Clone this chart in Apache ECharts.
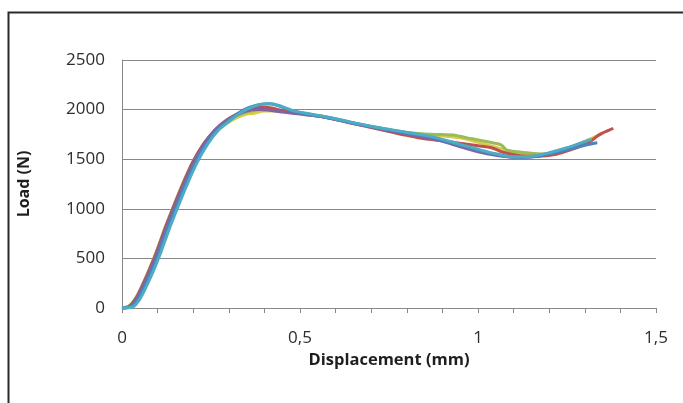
<!DOCTYPE html>
<html>
<head>
<meta charset="utf-8">
<script src="https://cdn.jsdelivr.net/npm/echarts@6/dist/echarts.min.js"></script>
<style>
html,body{margin:0;padding:0;background:#fff;}
#chart{width:683px;height:403px;}
</style>
</head>
<body>
<div id="chart"></div>
<script>
// ---- data (displacement mm, load N) ----
const xTicks = [0, 0.5, 1, 1.5];
const yTicks = [0, 500, 1000, 1500, 2000, 2500];
const xTitle = 'Displacement (mm)';
const yTitle = 'Load (N)';

const seriesNames = ['S6', 'S3', 'S2', 'S4', 'S1', 'S5'];
const seriesColors = ['#D9CC45', '#9BBB59', '#C0504D', '#8064A2', '#4F81BD', '#4BACC6'];

const orangeData = [[0,0],[0.02,20],[0.04,105],[0.06,250],[0.08,415],[0.10,595],[0.12,795],[0.145,1025],[0.17,1245],[0.2,1475],[0.23,1645],[0.26,1765],[0.29,1850],[0.32,1915],[0.35,1955],[0.37,1962],[0.40,1985],[0.44,1985],[0.5,1965],[0.55,1940],[0.6,1905],[0.65,1862],[0.7,1828],[0.75,1792],[0.8,1765],[0.85,1745],[0.9,1735],[0.95,1715],[1.0,1670],[1.05,1620],[1.1,1570],[1.15,1545],[1.2,1560],[1.25,1610],[1.3,1680],[1.35,1760]];
const greenData = [[0,0],[0.02,20],[0.04,110],[0.06,255],[0.08,420],[0.10,600],[0.12,800],[0.145,1030],[0.17,1250],[0.2,1480],[0.23,1655],[0.26,1780],[0.29,1870],[0.32,1935],[0.35,1975],[0.38,1995],[0.41,2005],[0.45,1990],[0.5,1965],[0.55,1940],[0.6,1905],[0.65,1865],[0.7,1830],[0.75,1795],[0.8,1770],[0.85,1755],[0.9,1748],[0.93,1744],[0.97,1715],[1.0,1695],[1.04,1665],[1.065,1645],[1.08,1595],[1.11,1575],[1.15,1560],[1.19,1550],[1.22,1555]];
const redData = [[0,0],[0.02,15],[0.04,100],[0.06,245],[0.08,410],[0.10,590],[0.12,790],[0.145,1020],[0.17,1240],[0.2,1480],[0.23,1660],[0.26,1790],[0.29,1885],[0.32,1950],[0.35,1995],[0.38,2020],[0.41,2020],[0.45,1990],[0.5,1960],[0.55,1935],[0.6,1900],[0.65,1860],[0.7,1820],[0.75,1780],[0.8,1740],[0.85,1705],[0.9,1685],[0.95,1660],[1.0,1635],[1.04,1613],[1.07,1570],[1.12,1535],[1.17,1530],[1.22,1550],[1.26,1595],[1.31,1665],[1.34,1745],[1.37,1795],[1.38,1810]];
const purpleData = [[0,0],[0.02,10],[0.04,90],[0.06,230],[0.08,390],[0.10,570],[0.12,770],[0.145,1000],[0.17,1220],[0.2,1460],[0.23,1650],[0.26,1790],[0.29,1880],[0.32,1945],[0.35,1985],[0.38,2000],[0.41,1995],[0.45,1975],[0.5,1955],[0.55,1935],[0.6,1900],[0.65,1860],[0.7,1825],[0.75,1790],[0.8,1755],[0.85,1720],[0.9,1680],[0.95,1625],[1.0,1575],[1.05,1540],[1.1,1520],[1.15,1525],[1.2,1555],[1.25,1600],[1.3,1650]];
const blueData = [[0,0],[0.025,10],[0.045,90],[0.065,230],[0.085,390],[0.105,570],[0.125,770],[0.15,1000],[0.175,1220],[0.205,1460],[0.235,1650],[0.265,1790],[0.295,1880],[0.325,1960],[0.355,2020],[0.385,2050],[0.415,2060],[0.445,2030],[0.48,1985],[0.52,1955],[0.56,1930],[0.61,1895],[0.66,1858],[0.71,1822],[0.76,1790],[0.81,1760],[0.86,1728],[0.90,1690],[0.95,1640],[1.00,1590],[1.05,1548],[1.10,1520],[1.15,1522],[1.2,1552],[1.25,1595],[1.30,1640],[1.335,1665]];
const cyanData = [[0,0],[0.03,10],[0.05,90],[0.07,230],[0.09,390],[0.11,570],[0.13,770],[0.155,1000],[0.18,1220],[0.21,1460],[0.24,1650],[0.27,1790],[0.30,1880],[0.33,1960],[0.36,2020],[0.39,2055],[0.42,2060],[0.45,2030],[0.48,1990],[0.52,1960],[0.56,1935],[0.61,1900],[0.66,1860],[0.71,1825],[0.76,1795],[0.81,1765],[0.86,1735],[0.90,1700],[0.95,1650],[1.00,1600],[1.05,1555],[1.10,1525],[1.15,1530],[1.2,1565],[1.25,1615],[1.29,1665],[1.32,1700]];

const allData = [orangeData, greenData, redData, purpleData, blueData, cyanData];

const chart = echarts.init(document.getElementById('chart'), null, {renderer: 'canvas'});
const textColor = '#2e2e2e';
const fontFam = '"Open Sans", sans-serif';

chart.setOption({
  animation: false,
  backgroundColor: '#ffffff',
  graphic: [{
    type: 'rect', left: 6, top: 10, shape: {width: 700, height: 420},
    style: {fill: 'none', stroke: '#2a2a2a', lineWidth: 2}, z: 100, silent: true
  }],
  grid: {left: 122, right: 27, top: 60, bottom: 95},
  xAxis: {
    type: 'value',
    min: xTicks[0], max: xTicks[xTicks.length - 1],
    interval: xTicks[1] - xTicks[0],
    name: xTitle, nameLocation: 'middle', nameGap: 44,
    nameTextStyle: {fontFamily: fontFam, fontWeight: 'bold', fontSize: 16.5, color: '#1e1e1e'},
    axisLine: {show: true, lineStyle: {color: '#888', width: 1}},
    axisTick: {show: true, length: 5, lineStyle: {color: '#888'}},
    minorTick: {show: true, splitNumber: 5, length: 5, lineStyle: {color: '#888'}},
    splitLine: {show: false},
    axisLabel: {
      margin: 22, fontFamily: fontFam, fontSize: 17, color: textColor,
      formatter: v => String(v).replace('.', ',')
    }
  },
  yAxis: {
    type: 'value',
    min: yTicks[0], max: yTicks[yTicks.length - 1],
    interval: yTicks[1] - yTicks[0],
    name: yTitle, nameLocation: 'middle', nameGap: 90,
    nameTextStyle: {fontFamily: fontFam, fontWeight: 'bold', fontSize: 16, color: '#1e1e1e'},
    axisLine: {show: true, lineStyle: {color: '#888', width: 1}},
    axisTick: {show: false},
    splitLine: {show: true, lineStyle: {color: '#888', width: 1}},
    axisLabel: {margin: 17, fontFamily: fontFam, fontSize: 17, color: textColor,
      formatter: v => String(v)}
  },
  series: allData.map((d, i) => ({
    name: seriesNames[i],
    type: 'line',
    data: d,
    smooth: 0.3,
    showSymbol: false,
    symbol: 'none',
    clip: false,
    lineStyle: {width: 3, color: seriesColors[i]},
    itemStyle: {color: seriesColors[i]}
  }))
});
</script>
</body>
</html>
